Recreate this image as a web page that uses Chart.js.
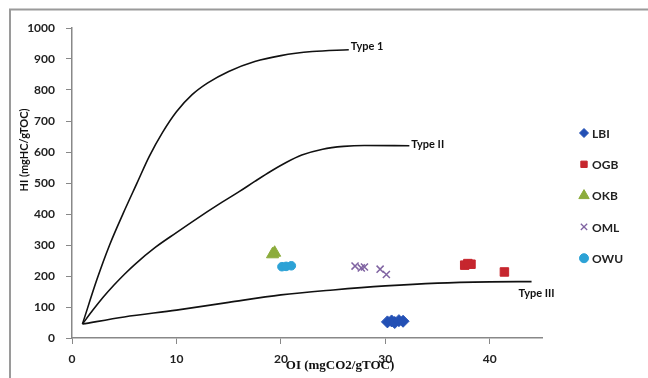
<!DOCTYPE html>
<html>
<head>
<meta charset="utf-8">
<script src="https://cdn.jsdelivr.net/npm/chart.js@4.4.0/dist/chart.umd.min.js"></script>
<style>
  html, body { margin: 0; padding: 0; background: #fff; }
</style>
</head>
<body>
<canvas id="chart" width="648" height="378"></canvas>
<script>
// Sample groups (OI, HI)
const lbiOI = [30.2, 30.6, 30.9, 31.3, 31.7];
const lbiHI = [52, 55, 50, 56, 54];
const ogbOI = [37.6, 37.9, 38.2, 41.4];
const ogbHI = [235, 240, 238, 213];
const okbOI = [19.2, 19.4];
const okbHI = [270, 275];
const omlOI = [27.1, 27.7, 28.0, 29.5, 30.1];
const omlHI = [232, 226, 229, 222, 205];
const owuOI = [20.1, 20.5, 21.0];
const owuHI = [230, 231, 233];

// Kerogen type reference curves
const type1OI = [1, 2.4, 3.6, 4.9, 6.2, 7.4, 8.7, 10, 11.5, 13, 15, 17.5, 20, 23, 26.5];
const type1HI = [45, 190, 300, 402, 498, 586, 665, 730, 785, 823, 860, 892, 911, 924, 930];
const type2OI = [1, 2, 3, 4, 5, 6, 8, 10, 12, 14, 16, 17.5, 19, 20.5, 22, 24, 26, 28, 32.3];
const type2HI = [45, 90, 132, 170, 205, 237, 293, 340, 386, 430, 472, 505, 537, 566, 590, 609, 618, 621, 620];
const type3OI = [1, 5, 10, 15, 20, 25, 30, 35, 40, 44];
const type3HI = [45, 68, 90, 115, 139, 155, 168, 177, 181, 182];

const xTicks = [0, 10, 20, 30, 40];

function pts(xs, ys) {
    return xs.map((x, i) => ({ x: x, y: ys[i] }));
}

const groups = [
    { label: 'LBI', x: lbiOI, y: lbiHI, color: '#2350b5', style: 'rectRot', r: 6 },
    { label: 'OGB', x: ogbOI, y: ogbHI, color: '#c6262e', style: 'rect', r: 6 },
    { label: 'OKB', x: okbOI, y: okbHI, color: '#8cac3c', style: 'triangle', r: 7 },
    { label: 'OML', x: omlOI, y: omlHI, color: '#8064a2', style: 'crossRot', r: 5 },
    { label: 'OWU', x: owuOI, y: owuHI, color: '#2ca2d6', style: 'circle', r: 4.3 }
];

const curves = [
    { label: 'Type 1', x: type1OI, y: type1HI, dx: 2, dy: -3, align: 'left' },
    { label: 'Type II', x: type2OI, y: type2HI, dx: 2, dy: -1, align: 'left' },
    { label: 'Type III', x: type3OI, y: type3HI, dx: 23, dy: 12, align: 'right' }
];

const datasets = [];
curves.forEach(c => {
    datasets.push({
        label: c.label,
        data: pts(c.x, c.y),
        showLine: true,
        borderColor: '#111',
        borderWidth: 1.6,
        pointRadius: 0,
        cubicInterpolationMode: 'monotone',
        fill: false
    });
});
groups.forEach(g => {
    datasets.push({
        label: g.label,
        data: pts(g.x, g.y),
        pointStyle: g.style,
        pointRadius: g.r,
        pointHoverRadius: g.r,
        backgroundColor: g.color,
        borderColor: g.color,
        borderWidth: g.style === 'crossRot' ? 1.5 : 1
    });
});

const decor = {
    id: 'decor',
    afterDraw(chart) {
        const ctx = chart.ctx;
        const xs = chart.scales.x, ys = chart.scales.y;
        ctx.save();

        // outer frame (top and left edges only visible)
        ctx.strokeStyle = '#9a9a9a';
        ctx.lineWidth = 2;
        ctx.beginPath();
        ctx.moveTo(10, 378);
        ctx.lineTo(10, 9.5);
        ctx.lineTo(648, 9.5);
        ctx.stroke();

        // curve labels
        ctx.fillStyle = '#111';
        ctx.font = 'bold 11px Lato';
        ctx.textBaseline = 'middle';
        curves.forEach(c => {
            const n = c.x.length - 1;
            const px = xs.getPixelForValue(c.x[n]);
            const py = ys.getPixelForValue(c.y[n]);
            ctx.textAlign = c.align;
            ctx.fillText(c.label, px + c.dx, py + c.dy);
        });

        // axis titles
        ctx.font = 'bold 13px "Liberation Serif"';
        ctx.textAlign = 'center';
        ctx.fillText('OI (mgCO2/gTOC)', 340, 366);
        ctx.save();
        ctx.translate(24, 150);
        ctx.rotate(-Math.PI / 2);
        ctx.font = 'bold 11px Lato';
        ctx.fillText('HI (mgHC/gTOC)', 0, 0);
        ctx.restore();

        // legend
        ctx.font = 'bold 12px Lato';
        ctx.textAlign = 'left';
        groups.forEach((g, i) => {
            const ly = 133 + i * 31.3;
            ctx.fillStyle = g.color;
            ctx.strokeStyle = g.color;
            ctx.lineWidth = g.style === 'crossRot' ? 1.3 : 1;
            Chart.helpers.drawPoint(ctx, { pointStyle: g.style, radius: g.style === 'triangle' ? 6 : 4.5, rotation: 0, borderWidth: 1 }, 584, ly);
            ctx.fillStyle = '#222';
            ctx.fillText(g.label, 592, ly + 1);
        });
        ctx.restore();
    }
};

new Chart(document.getElementById('chart'), {
    type: 'scatter',
    data: { datasets: datasets },
    options: {
        responsive: false,
        animation: false,
        layout: { padding: { top: 28, right: 106, left: 0, bottom: 0 } },
        plugins: {
            legend: { display: false },
            tooltip: { enabled: false }
        },
        scales: {
            x: {
                min: 0,
                max: 45,
                afterBuildTicks: s => { s.ticks = xTicks.map(v => ({ value: v })); },
                afterFit: s => { s.height = 40; },
                grid: { drawOnChartArea: false, tickLength: 6, color: '#888' },
                border: { color: '#888', width: 1.5 },
                ticks: { padding: 8, color: '#222', font: { family: 'Lato', weight: 'bold', size: 12 } }
            },
            y: {
                min: 0,
                max: 1000,
                afterFit: s => { s.width = 72; },
                grid: { drawOnChartArea: false, tickLength: 6, color: '#888' },
                border: { color: '#888', width: 1.5 },
                ticks: {
                    stepSize: 100,
                    padding: 11,
                    color: '#222',
                    font: { family: 'Lato', weight: 'bold', size: 12 },
                    callback: v => String(v)
                }
            }
        }
    },
    plugins: [decor]
});
</script>
</body>
</html>
